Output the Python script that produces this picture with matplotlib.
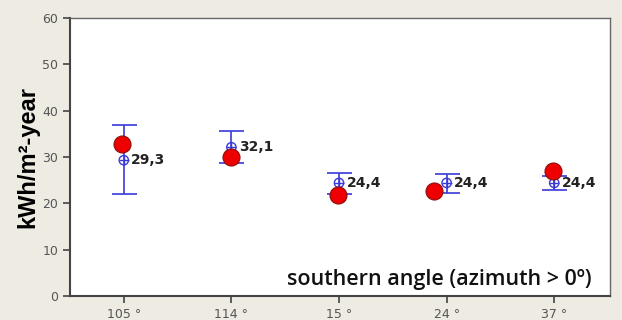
import matplotlib.pyplot as plt

# azimuth categories and yields (kWh/m2-year)
angles = ['105 °', '114 °', '15 °', '24 °', '37 °']
mean_vals = [29.3, 32.1, 24.4, 24.4, 24.4]
err_low = [22.0, 28.6, 22.0, 22.3, 22.8]
err_high = [36.8, 35.5, 26.5, 26.4, 25.8]
measured = [32.7, 30.0, 21.8, 22.7, 27.0]
mean_labels = ['29,3', '32,1', '24,4', '24,4', '24,4']

fig = plt.figure(figsize=(6.22, 3.2), dpi=100, facecolor='#eeebe3')
ax = fig.add_axes([0.1125, 0.075, 0.8685, 0.869])
ax.set_facecolor('white')

x = list(range(len(angles)))
yerr = [[m - lo for m, lo in zip(mean_vals, err_low)],
        [hi - m for m, hi in zip(mean_vals, err_high)]]

# interval bars with the mean as a crossed circle
ax.errorbar(x, mean_vals, yerr=yerr, fmt='none', ecolor='#3a3ad8',
            elinewidth=1.2, capsize=9, capthick=1.2, zorder=2)
ax.scatter(x, mean_vals, s=45, facecolors='none', edgecolors='#3a3ad8',
           linewidths=1.0, zorder=3)
ax.scatter(x, mean_vals, s=45, marker='+', color='#3a3ad8',
           linewidths=1.0, zorder=3)

# measured values, nudged slightly sideways so they don't hide the bars
nudge = [-0.02, 0.0, -0.01, -0.12, -0.01]
ax.scatter([i + d for i, d in zip(x, nudge)], measured, s=150, color='#ee0000',
           edgecolors='#8a1010', linewidths=0.8, zorder=4)

for i, lab in enumerate(mean_labels):
    ax.text(i + 0.07, mean_vals[i], lab, fontsize=10, fontweight='bold',
            color='#222222', va='center', ha='left', zorder=5)

ax.set_xlim(-0.5, 4.52)
ax.set_ylim(0, 60)
ax.set_yticks(range(0, 61, 10))
ax.set_xticks(x)
ax.set_xticklabels(angles)
ax.tick_params(axis='both', direction='out', length=5, width=1.2,
               colors='#444444', labelsize=9, labelcolor='#555555')

for side in ['left', 'bottom']:
    ax.spines[side].set_color('#444444')
    ax.spines[side].set_linewidth(1.5)
for side in ['top', 'right']:
    ax.spines[side].set_color('#666666')
    ax.spines[side].set_linewidth(1.0)

ax.set_ylabel('kWh/m²-year', fontsize=17, fontweight='bold',
              family='Liberation Sans', labelpad=2)
ax.text(0.965, 0.02, 'southern angle (azimuth > 0º)', transform=ax.transAxes,
        fontsize=15.5, family='Open Sans', fontweight='semibold',
        ha='right', va='bottom', color='#111111')

fig.savefig('out.png', dpi=100, facecolor=fig.get_facecolor())
